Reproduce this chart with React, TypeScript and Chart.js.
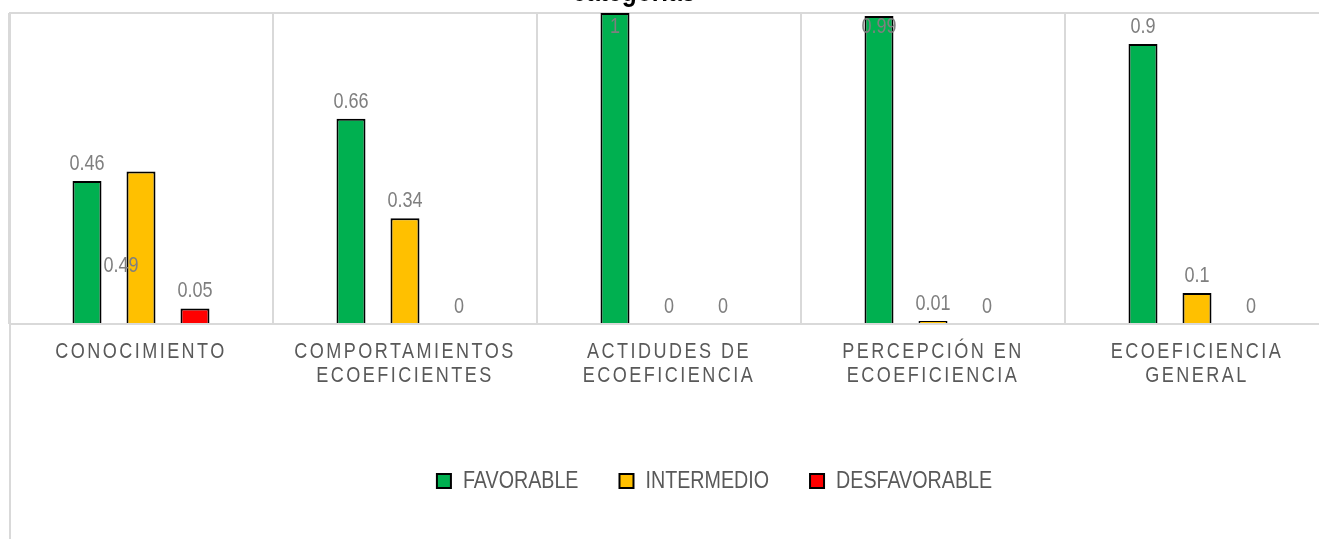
import React, { useEffect, useRef } from 'react';
import { Chart, registerables } from 'chart.js';

Chart.register(...registerables);

// ---- data ----
const CATEGORIES: string[][] = [
  ['CONOCIMIENTO'],
  ['COMPORTAMIENTOS', 'ECOEFICIENTES'],
  ['ACTIDUDES DE', 'ECOEFICIENCIA'],
  ['PERCEPCIÓN EN', 'ECOEFICIENCIA'],
  ['ECOEFICIENCIA', 'GENERAL'],
];
const SERIES_NAMES = ['FAVORABLE', 'INTERMEDIO', 'DESFAVORABLE'];
const FAVORABLE = [0.46, 0.66, 1, 0.99, 0.9];
const INTERMEDIO = [0.49, 0.34, 0, 0.01, 0.1];
const DESFAVORABLE = [0.05, 0, 0, 0, 0];
const TITLE_TEXT = 'categorías';

// ---- styles ----
const COLORS = ['#00B050', '#FFC000', '#FF0000'];
const FONT = "'Liberation Sans', Arial, sans-serif";
const NARROW = 0.82; // horizontal squeeze to imitate Arial Narrow
const GRID = '#D9D9D9';
const CANVAS_W = 1412;
const CANVAS_H = 559;
const CANVAS_TOP = -20;
// manual nudge of one data label (dataset index, point index)
const LABEL_NUDGES = [{ ds: 1, idx: 0, dx: -20, dy: 111 }];

const trackingPlugin = {
  id: 'tracking',
  beforeDraw(chart: any) {
    const sc: any = chart.scales.x;
    if (sc && !sc.__patched) {
      const orig = sc.drawLabels.bind(sc);
      sc.drawLabels = (area: any) => {
        const ctx = chart.ctx;
        ctx.save();
        (ctx as any).letterSpacing = '3px';
        orig(area);
        ctx.restore();
      };
      sc.__patched = true;
    }
  },
};

const extrasPlugin = {
  id: 'extras',
  afterDraw(chart: any) {
    const ctx = chart.ctx;
    const a = chart.chartArea;
    ctx.save();
    ctx.strokeStyle = GRID;
    ctx.lineWidth = 2;
    ctx.beginPath();
    ctx.moveTo(a.left + 1, a.top);
    ctx.lineTo(a.left + 1, chart.height);
    ctx.stroke();
    ctx.fillStyle = '#000000';
    ctx.font = `bold 30px ${FONT}`;
    ctx.textAlign = 'center';
    ctx.textBaseline = 'alphabetic';
    ctx.fillText(TITLE_TEXT, 626, 21);
    ctx.restore();
  },
  afterDatasetsDraw(chart: any) {
    const ctx = chart.ctx;
    const top = chart.chartArea.top;
    ctx.save();
    ctx.font = `22px ${FONT}`;
    ctx.fillStyle = '#7F7F7F';
    ctx.textAlign = 'center';
    ctx.textBaseline = 'alphabetic';
    chart.data.datasets.forEach((ds: any, di: number) => {
      const meta = chart.getDatasetMeta(di);
      meta.data.forEach((bar: any, i: number) => {
        const v = ds.data[i];
        let x = bar.x;
        let y = Math.max(bar.y - 11, top + 20);
        const n = LABEL_NUDGES.find((k) => k.ds === di && k.idx === i);
        if (n) {
          x += n.dx;
          y += n.dy;
        }
        ctx.fillText(String(v), x, y);
      });
    });
    ctx.restore();
  },
};

function narrowText(ctx: CanvasRenderingContext2D) {
  const anyCtx = ctx as any;
  if (anyCtx.__narrow) return;
  anyCtx.__narrow = true;
  const origFill = ctx.fillText.bind(ctx);
  const origMeasure = ctx.measureText.bind(ctx);
  anyCtx.fillText = (t: string, x: number, y: number, mw?: number) => {
    ctx.save();
    ctx.translate(x, y);
    ctx.scale(NARROW, 1);
    if (mw === undefined) origFill(t, 0, 0);
    else origFill(t, 0, 0, mw / NARROW);
    ctx.restore();
  };
  anyCtx.measureText = (t: string) => {
    const m = origMeasure(t);
    return {
      width: m.width * NARROW,
      actualBoundingBoxAscent: m.actualBoundingBoxAscent,
      actualBoundingBoxDescent: m.actualBoundingBoxDescent,
      actualBoundingBoxLeft: m.actualBoundingBoxLeft * NARROW,
      actualBoundingBoxRight: m.actualBoundingBoxRight * NARROW,
      fontBoundingBoxAscent: (m as any).fontBoundingBoxAscent,
      fontBoundingBoxDescent: (m as any).fontBoundingBoxDescent,
    };
  };
}

export default function App() {
  const ref = useRef<HTMLCanvasElement | null>(null);
  useEffect(() => {
    if (!ref.current) return;
    const c2d = ref.current.getContext('2d');
    if (c2d) narrowText(c2d);
    const seriesData = [FAVORABLE, INTERMEDIO, DESFAVORABLE];
    const chart = new Chart(ref.current, {
      type: 'bar',
      data: {
        labels: CATEGORIES,
        datasets: SERIES_NAMES.map((name, i) => ({
          label: name,
          data: seriesData[i],
          backgroundColor: COLORS[i],
          borderColor: '#000000',
          borderWidth: (c: any) => (c.type === 'data' && c.raw === 0 ? 0 : 2),
          categoryPercentage: 0.6136,
          barPercentage: 0.537,
        })),
      },
      options: {
        responsive: false,
        animation: false,
        layout: { padding: { left: 1, top: 33, right: 0, bottom: 36 } },
        plugins: {
          title: { display: false },
          tooltip: { enabled: false },
          legend: {
            position: 'bottom',
            labels: {
              boxWidth: 14,
              boxHeight: 14,
              padding: 41,
              color: '#595959',
              font: { size: 24, family: FONT },
            },
          },
        },
        scales: {
          x: {
            grid: { offset: true, color: GRID, lineWidth: 2, drawTicks: false },
            border: { display: false },
            ticks: {
              autoSkip: false,
              maxRotation: 0,
              padding: 16,
              color: '#595959',
              font: { size: 22, family: FONT, lineHeight: 1.1 },
            },
            afterFit: (s: any) => {
              s.height = 104;
            },
          },
          y: {
            position: 'right',
            min: 0,
            max: 1,
            grid: { color: GRID, lineWidth: 2, drawTicks: false },
            border: { display: false },
            ticks: { display: false, stepSize: 1 },
            afterFit: (s: any) => {
              s.width = 91;
            },
          },
        },
      },
      plugins: [trackingPlugin, extrasPlugin],
    } as any);
    return () => chart.destroy();
  }, []);
  return (
    <div style={{ position: 'absolute', left: 0, top: 0, width: 1319, height: 539, overflow: 'hidden', background: '#fff' }}>
      <canvas
        ref={ref}
        width={CANVAS_W}
        height={CANVAS_H}
        style={{ position: 'absolute', left: 8, top: CANVAS_TOP, width: CANVAS_W, height: CANVAS_H }}
      />
    </div>
  );
}
